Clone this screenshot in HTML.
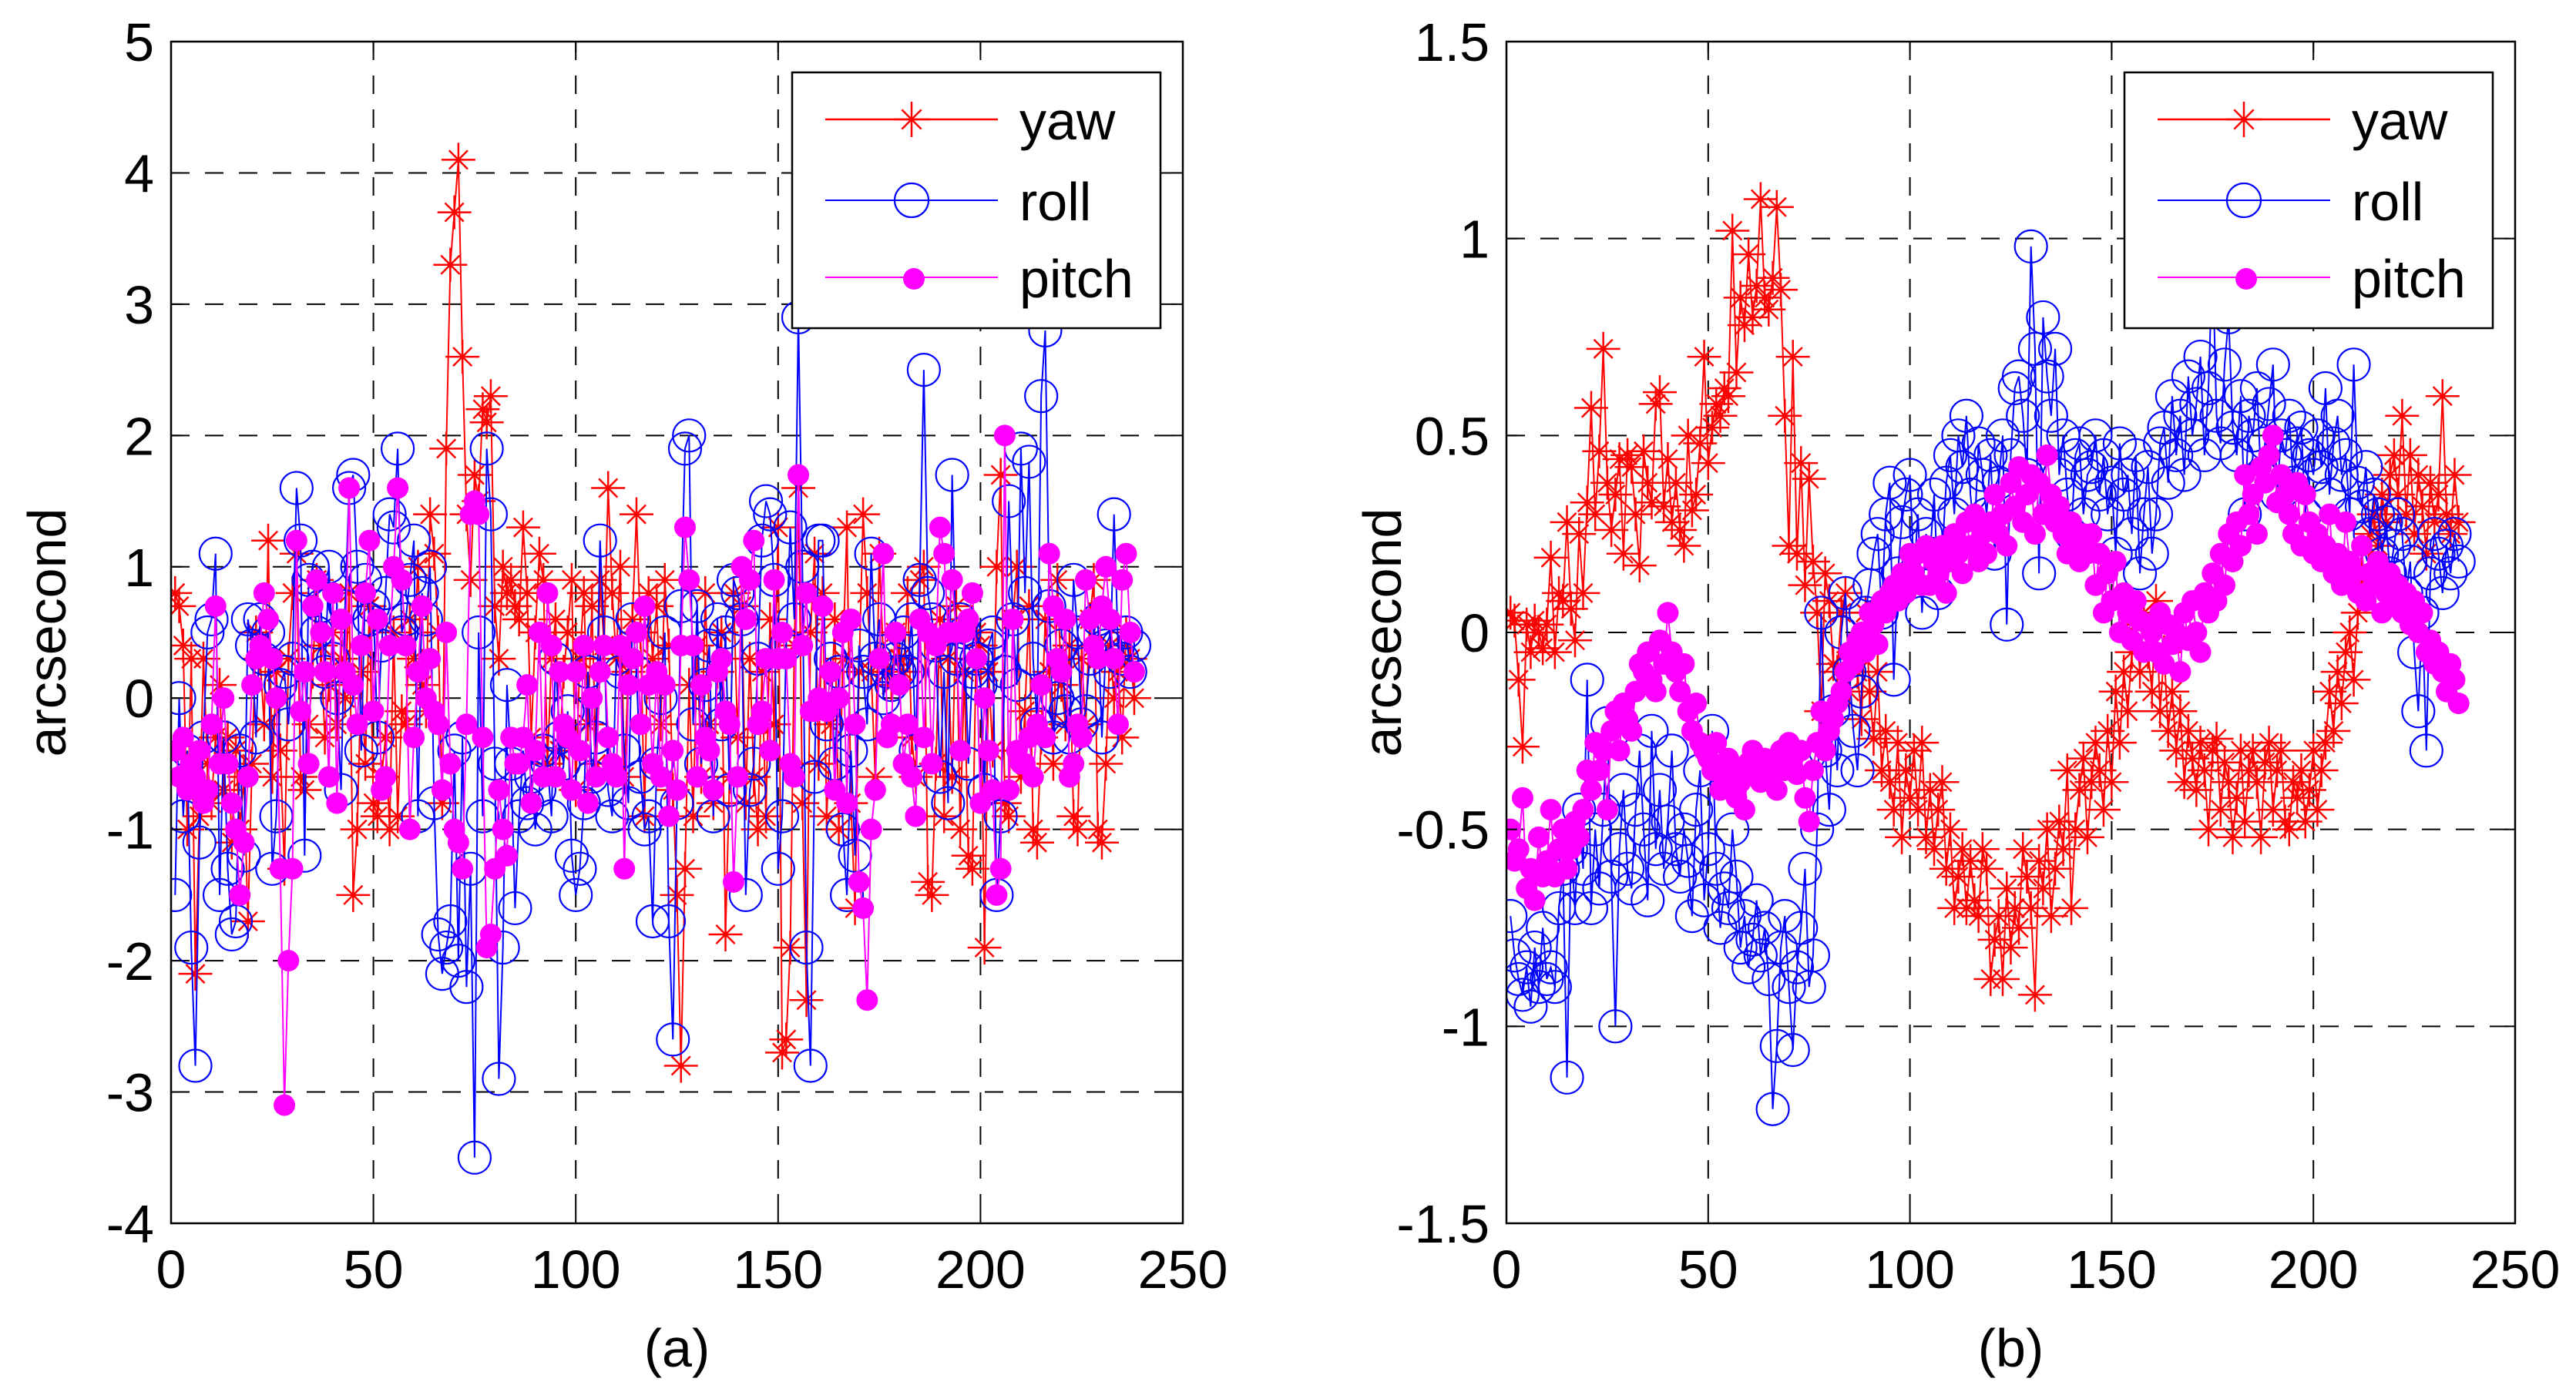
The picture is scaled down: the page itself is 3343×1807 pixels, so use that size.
<!DOCTYPE html>
<html><head><meta charset="utf-8"><style>
html,body{margin:0;padding:0;background:#fff}
svg{display:block}
text{font-family:"Liberation Sans",Arial,sans-serif;fill:#000}
</style></head><body>
<svg id="fig" width="3343" height="1807" viewBox="0 0 3343 1807" xmlns="http://www.w3.org/2000/svg">
<rect width="3343" height="1807" fill="#fff"/>
</svg>
<script>
// ---- Panel (a) data ----
const aXTicks=[0,50,100,150,200,250];
const aYTicks=[-4,-3,-2,-1,0,1,2,3,4,5];
const aYaw=[0.8,0.7,0.4,-1.0,0.3,-2.1,-0.9,0.3,-0.5,-0.8,-0.3,0.1,-0.7,-0.3,-1.1,-0.4,-1.0,-0.6,-1.7,-0.5,
0.5,0.3,-0.2,1.2,-0.6,0.2,-0.4,-1.3,0.3,0.8,1.1,-0.6,-0.7,-0.2,0.2,0.9,0.4,-0.3,0.1,0.5,
-0.2,0.3,0.0,0.8,-1.5,-1.0,0.2,-0.5,0.7,-0.8,-0.9,-0.6,-0.3,-1.0,0.5,-0.9,-0.1,-0.2,0.6,0.3,
1.0,0.1,-0.1,1.4,1.1,0.5,-0.8,1.9,3.3,3.7,4.1,2.6,1.4,0.9,1.7,1.5,2.2,2.1,2.3,0.7,
0.3,1.0,0.8,0.9,0.7,0.6,1.3,0.8,-0.3,0.5,1.1,0.9,-0.5,0.3,0.6,-0.4,0.2,0.5,0.9,-0.7,
0.3,0.8,-0.2,0.7,-0.5,0.9,0.4,1.6,0.8,0.3,1.0,-0.6,0.2,0.6,1.4,0.5,-0.9,0.8,0.3,0.7,
-0.2,0.9,0.4,-0.7,-1.5,-2.8,-1.3,0.1,-0.9,0.4,-0.6,0.8,-0.2,-0.8,0.2,0.5,-1.8,-0.6,0.8,-0.3,
0.7,-0.8,0.3,-0.6,-1.0,0.2,-0.9,0.6,-0.2,1.3,-2.7,-2.6,-1.9,0.4,1.6,-0.8,-2.3,0.5,1.1,-0.5,
0.8,-0.9,-0.2,0.6,-1.0,0.3,1.3,-0.8,-1.6,0.2,1.4,0.8,0.2,-0.6,1.1,0.3,0.2,0.1,0.5,0.3,
0.2,0.8,-0.3,-0.6,0.9,1.0,-1.4,-1.5,-0.5,0.6,-0.9,0.3,-0.6,0.7,-1.0,0.2,-1.2,-1.3,0.5,0.4,
-1.9,0.2,-0.4,1.0,1.7,-0.8,-0.9,0.6,1.0,-0.6,-0.1,0.7,-1.0,-1.1,-0.3,0.6,0.2,-0.5,0.9,0.1,
-0.2,0.4,-0.9,-1.0,0.3,-0.2,0.6,0.9,-1.0,-1.1,-0.5,0.4,0.0,0.2,-0.3,0.5,0.3,0.0];
const aRoll=[-1.5,0.0,-0.9,-0.4,-1.9,-2.8,-1.1,-0.3,0.5,0.6,1.1,-1.5,-0.3,-1.3,-1.8,-1.7,-0.4,-1.2,0.6,0.4,
-0.3,0.6,0.3,0.5,-1.3,-0.9,0.1,0.2,-0.2,0.3,1.6,1.2,-1.2,0.9,1.0,0.5,0.7,0.2,1.0,0.3,
0.0,-0.7,0.7,1.6,1.7,1.0,-0.4,0.9,0.6,0.7,-0.3,0.4,0.8,1.4,1.3,1.9,0.5,0.6,0.9,1.2,
-0.9,0.8,0.6,1.0,-0.8,-1.8,-2.1,-1.9,-1.7,-0.4,-2.0,-0.3,-2.2,-1.3,-3.5,0.5,-0.9,1.9,1.4,-0.5,
-2.9,-1.9,0.1,-0.5,-1.6,-0.9,-0.4,-0.8,-0.6,-1.0,-0.7,-0.4,-0.5,-0.9,0.3,-0.3,-0.5,-0.1,-1.2,-1.5,
-1.3,-0.8,0.2,-0.6,-0.3,1.2,0.5,-0.7,-0.9,0.3,0.2,-0.4,-0.8,0.6,0.2,-0.6,-1.0,-0.9,-1.7,-0.5,
0.0,0.5,-1.7,-2.6,-0.8,0.7,1.9,2.0,-0.2,0.7,-0.5,0.1,0.4,-0.9,0.6,-0.2,0.5,-0.7,0.9,0.8,
0.6,-1.5,-0.7,-0.5,0.3,1.2,1.5,1.4,0.9,-1.3,-0.9,0.4,1.3,0.6,2.9,1.0,-1.9,-2.8,-0.6,1.2,
1.2,-0.2,0.3,-0.5,0.2,-1.0,-1.5,-0.4,-1.2,0.4,0.2,-0.2,1.1,0.3,0.6,0.0,0.2,0.1,0.3,0.2,
0.5,0.2,0.6,-0.4,0.9,2.5,0.8,0.6,0.4,-0.6,0.2,-0.8,1.7,0.3,0.6,0.5,-0.5,0.2,0.3,0.1,
-0.7,0.4,0.5,-1.5,-0.9,0.2,1.5,0.6,0.1,1.9,0.8,1.8,0.3,-0.2,2.3,2.8,0.7,-0.3,0.0,0.4,
-0.1,-0.3,0.9,0.5,-0.2,-0.1,0.3,0.5,0.6,-0.3,0.4,0.2,1.4,0.4,0.3,0.5,0.2,0.4];
const aPitch=[-0.4,-0.6,-0.3,-0.7,-0.5,-0.6,-0.4,-0.8,-0.7,-0.2,0.7,-0.5,0.0,-0.5,-0.8,-1.0,-1.5,-1.1,-0.6,0.1,
0.3,0.4,0.8,0.6,0.3,0.0,-1.3,-3.1,-2.0,-1.3,1.2,-0.1,0.2,-0.5,0.7,0.9,0.5,0.2,-0.6,0.8,
-0.8,0.6,0.2,1.6,0.1,-0.2,0.4,0.8,1.2,-0.1,0.6,-0.7,-0.6,0.4,1.0,1.6,0.9,0.4,-1.0,-0.3,
0.2,0.7,0.0,0.3,-0.1,-0.2,-0.7,0.5,-0.5,-1.0,-1.1,-1.3,-0.2,1.4,1.5,1.4,-0.3,-1.9,-1.8,-1.3,
-0.7,-1.0,-1.2,-0.3,-0.5,-0.5,-0.3,0.1,-0.8,-0.4,0.5,-0.6,0.8,0.4,-0.6,0.2,-0.2,-0.3,-0.7,0.2,
-0.4,0.4,-0.8,0.0,-0.6,0.2,0.4,-0.3,-0.5,-0.6,0.4,-1.3,0.1,0.3,0.5,-0.2,0.7,0.1,-0.5,0.2,
-0.6,0.1,-0.9,-0.4,-0.7,0.4,1.3,0.9,0.4,-0.6,0.1,-0.3,-0.4,-0.7,0.2,0.3,-0.1,-0.2,-1.4,-0.6,
1.0,0.6,0.9,1.2,-0.2,-0.1,0.3,-0.4,0.9,0.3,0.5,0.3,-0.5,-0.6,1.7,0.4,0.8,-0.1,-0.1,0.0,
0.7,-0.1,0.2,-0.7,0.0,0.5,-0.8,0.6,-0.2,-1.4,-1.6,-2.3,-1.0,-0.7,0.3,1.1,-0.3,-0.2,0.5,0.1,
-0.5,-0.2,-0.6,-0.9,0.6,-0.3,0.5,-0.5,0.4,1.3,1.1,0.5,0.9,0.5,-0.4,0.5,0.6,0.8,0.3,-0.8,
0.0,-0.4,-0.7,-1.5,-1.3,2.0,-0.7,0.6,-0.4,-0.5,-0.5,-0.3,-0.6,-0.2,0.1,-0.3,1.1,0.7,0.3,0.2,
0.6,-0.6,-0.5,-0.2,-0.3,0.9,0.6,0.4,0.3,0.7,1.0,0.6,0.3,-0.2,0.9,1.1,0.5,0.2];
// ---- Panel (b) data ----
const bXTicks=[0,50,100,150,200,250];
const bYTicks=[-1.5,-1,-0.5,0,0.5,1,1.5];
const bYaw=[0.05,0.03,-0.12,-0.29,0.02,-0.05,0.03,0.00,-0.04,0.02,0.19,-0.05,0.10,0.08,0.28,0.06,-0.02,0.25,0.10,0.33,
0.57,0.30,0.46,0.72,0.38,0.26,0.35,0.44,0.20,0.45,0.42,0.30,0.17,0.46,0.38,0.33,0.58,0.61,0.32,0.44,
0.28,0.38,0.26,0.22,0.50,0.31,0.35,0.48,0.70,0.43,0.52,0.58,0.55,0.62,0.60,1.02,0.66,0.85,0.78,0.96,
0.80,0.88,1.10,0.85,0.82,0.90,1.08,0.87,0.55,0.22,0.70,0.20,0.43,0.12,0.39,0.18,0.05,-0.20,0.15,0.08,
-0.08,-0.10,0.05,0.10,-0.15,-0.05,-0.10,-0.22,0.05,-0.15,-0.27,-0.10,-0.35,-0.25,-0.38,-0.45,-0.28,-0.52,-0.35,-0.42,
-0.30,-0.45,-0.28,-0.52,-0.40,-0.55,-0.45,-0.38,-0.60,-0.50,-0.70,-0.62,-0.55,-0.70,-0.58,-0.68,-0.72,-0.55,-0.60,-0.88,
-0.78,-0.72,-0.88,-0.65,-0.80,-0.70,-0.75,-0.55,-0.62,-0.70,-0.92,-0.58,-0.65,-0.50,-0.72,-0.60,-0.48,-0.55,-0.35,-0.70,
-0.50,-0.40,-0.32,-0.52,-0.38,-0.28,-0.35,-0.45,-0.25,-0.38,-0.15,-0.28,-0.10,-0.20,-0.05,0.02,-0.10,0.05,-0.05,-0.15,
0.08,-0.20,-0.05,-0.25,-0.15,-0.30,-0.20,-0.38,-0.25,-0.32,-0.40,-0.28,-0.35,-0.50,-0.30,-0.27,-0.45,-0.33,-0.38,-0.52,
-0.42,-0.30,-0.48,-0.35,-0.30,-0.38,-0.52,-0.33,-0.28,-0.45,-0.35,-0.30,-0.48,-0.50,-0.38,-0.42,-0.35,-0.48,-0.40,-0.30,
-0.45,-0.35,-0.28,-0.15,-0.25,-0.10,-0.18,-0.05,0.00,-0.12,0.05,0.15,0.10,0.25,0.30,0.22,0.35,0.28,0.40,0.45,
0.35,0.55,0.30,0.45,0.25,0.40,0.32,0.20,0.38,0.28,0.35,0.60,0.30,0.25,0.40,0.28];
const bRoll=[-0.72,-0.82,-0.88,-0.92,-0.85,-0.95,-0.80,-0.90,-0.75,-0.88,-0.85,-0.90,-0.70,-0.60,-1.13,-0.55,-0.70,-0.45,-0.60,-0.12,
-0.70,-0.50,-0.65,-0.45,-0.23,-0.62,-1.00,-0.55,-0.40,-0.60,-0.65,-0.45,-0.30,-0.50,-0.68,-0.25,-0.55,-0.40,-0.60,-0.48,
-0.30,-0.55,-0.62,-0.50,-0.58,-0.72,-0.45,-0.35,-0.68,-0.55,-0.25,-0.60,-0.75,-0.65,-0.70,-0.50,-0.62,-0.80,-0.72,-0.85,
-0.78,-0.68,-0.82,-0.75,-0.88,-1.21,-1.05,-0.80,-0.72,-0.90,-1.06,-0.85,-0.75,-0.60,-0.90,-0.82,-0.50,0.05,-0.30,-0.45,
-0.20,-0.35,0.00,0.10,-0.10,-0.25,-0.35,-0.15,0.05,0.12,0.20,0.25,0.05,0.30,0.38,-0.12,0.15,0.28,0.35,0.40,
0.15,0.30,0.05,0.25,0.20,0.35,
0.10,0.20,0.38,0.45,0.30,0.50,0.42,0.55,0.35,0.25,0.48,0.40,0.30,0.45,0.20,0.38,0.50,0.02,0.45,0.62,
0.65,0.55,0.40,0.98,0.72,0.15,0.80,0.65,0.55,0.72,0.40,0.50,0.35,0.25,0.45,0.48,0.30,0.40,0.42,0.50,
0.35,0.45,0.30,0.38,0.20,0.48,0.35,0.40,0.25,0.45,0.15,0.30,0.42,0.20,
0.30,0.48,0.52,0.38,0.60,0.45,0.55,0.40,0.65,0.50,0.58,0.70,0.45,0.62,0.95,0.55,0.48,0.68,0.80,0.52,
0.45,0.60,0.30,0.55,0.50,0.62,0.40,0.48,0.58,0.68,0.35,0.50,0.45,0.55,0.38,0.48,0.52,0.30,0.45,0.40,
0.50,0.42,0.62,0.35,0.48,0.55,0.40,0.45,0.30,0.68,0.38,0.32,0.42,0.25,0.35,0.30,0.20,0.28,0.15,0.22,
0.30,0.25,0.10,0.18,-0.05,-0.20,0.05,-0.30,0.15,0.25,0.20,0.10,0.22,0.15,0.25,0.18];
const bPitch=[-0.50,-0.58,-0.55,-0.42,-0.65,-0.60,-0.68,-0.52,-0.62,-0.58,-0.45,-0.62,-0.55,-0.50,-0.60,-0.55,-0.48,-0.52,-0.45,-0.35,
-0.40,-0.28,-0.35,-0.30,-0.45,-0.25,-0.20,-0.30,-0.18,-0.22,-0.25,-0.15,-0.08,-0.10,-0.05,-0.12,-0.15,-0.02,-0.08,0.05,
-0.05,-0.10,-0.15,-0.08,-0.20,-0.25,-0.18,-0.28,-0.30,-0.32,-0.35,-0.28,-0.40,-0.38,-0.32,-0.35,-0.42,-0.38,-0.45,-0.33,
-0.30,-0.35,-0.38,-0.32,-0.36,-0.34,-0.40,-0.30,-0.35,-0.28,-0.32,-0.36,-0.30,-0.42,-0.48,-0.35,-0.28,-0.20,-0.30,-0.25,
-0.22,-0.18,-0.15,-0.10,-0.05,-0.08,-0.02,0.00,-0.05,0.05,0.02,-0.03,0.08,0.05,0.10,0.12,0.08,0.15,0.10,0.20,
0.15,0.20,0.12,0.22,
0.12,0.18,0.15,0.22,0.10,0.18,0.25,0.20,0.15,0.28,0.22,0.30,0.18,0.25,0.20,0.28,0.35,0.25,0.30,0.22,
0.38,0.32,0.42,0.28,0.35,0.40,0.25,0.38,0.30,0.45,0.35,0.28,0.32,0.25,0.20,0.28,0.22,0.18,0.25,0.20,
0.25,0.12,0.20,0.05,0.15,0.08,0.18,0.00,0.10,0.05,-0.02,0.08,0.03,-0.05,0.02,0.00,
-0.05,0.05,-0.08,0.02,-0.03,0.00,-0.10,0.05,-0.02,0.08,0.00,-0.05,0.10,0.05,0.15,0.08,0.20,0.12,0.25,0.18,
0.28,0.22,0.40,0.30,0.35,0.25,0.42,0.38,0.45,0.50,0.33,0.40,0.35,0.30,0.25,0.38,0.22,0.35,0.28,0.20,
0.25,0.18,0.22,0.30,0.15,0.20,0.12,0.28,0.18,0.15,0.10,0.22,0.08,0.15,0.12,0.18,0.05,0.10,0.15,0.08,
0.12,0.05,0.10,0.02,0.08,0.00,0.05,-0.05,-0.02,-0.08,-0.05,-0.10,-0.15,-0.08,-0.12,-0.18];
const seriesNames=["yaw","roll","pitch"];

const NS="http://www.w3.org/2000/svg";
const svg=document.getElementById("fig");
function mk(tag,attrs,parent){const e=document.createElementNS(NS,tag);for(const k in attrs)e.setAttribute(k,attrs[k]);(parent||svg).appendChild(e);return e;}

function star(g,x,y,s){
  mk("path",{d:`M${x-s} ${y}H${x+s}M${x} ${y-s}V${y+s}M${x-s*0.55} ${y-s*0.55}L${x+s*0.55} ${y+s*0.55}M${x-s*0.55} ${y+s*0.55}L${x+s*0.55} ${y-s*0.55}`,stroke:"#ff0000","stroke-width":2.5,fill:"none"},g);
}

function panel(id,L,R,T,B,xmin,xmax,ymin,ymax,xt,yt,yFmt,yaw,roll,pitch,label){
  const sx=v=>L+(v-xmin)/(xmax-xmin)*(R-L);
  const sy=v=>B-(v-ymin)/(ymax-ymin)*(B-T);
  const g=mk("g",{});
  
  
  const cp=mk("clipPath",{id:id+"-clip"},g);
  mk("rect",{x:L,y:T,width:R-L,height:B-T},cp);
  const grid=mk("g",{stroke:"#000","stroke-width":2,"stroke-dasharray":"24 20"},g);
  
  
  xt.forEach(v=>{if(v>xmin&&v<xmax)mk("line",{x1:sx(v),x2:sx(v),y1:T,y2:B},grid);});
  yt.forEach(v=>{if(v>ymin&&v<ymax)mk("line",{x1:L,x2:R,y1:sy(v),y2:sy(v)},grid);});
  const data=mk("g",{"clip-path":`url(#${id}-clip)`},g);
  const gy=mk("g",{},data);
  
  
  mk("polyline",{points:yaw.map((v,i)=>sx(i+1)+","+sy(v)).join(" "),stroke:"#ff0000","stroke-width":2,fill:"none"},gy);
  yaw.forEach((v,i)=>star(gy,sx(i+1),sy(v),22));
  const gr=mk("g",{},data);
  
  
  mk("polyline",{points:roll.map((v,i)=>sx(i+1)+","+sy(v)).join(" "),stroke:"#0000ff","stroke-width":2,fill:"none"},gr);
  roll.forEach((v,i)=>mk("circle",{cx:sx(i+1),cy:sy(v),r:21,stroke:"#0000ff","stroke-width":2.2,fill:"none"},gr));
  const gp=mk("g",{},data);
  
  
  mk("polyline",{points:pitch.map((v,i)=>sx(i+1)+","+sy(v)).join(" "),stroke:"#ff00ff","stroke-width":2,fill:"none"},gp);
  pitch.forEach((v,i)=>mk("circle",{cx:sx(i+1),cy:sy(v),r:14,fill:"#ff00ff"},gp));
  const box=mk("rect",{x:L,y:T,width:R-L,height:B-T,fill:"none",stroke:"#000","stroke-width":2.5},g);
  
  
  const tk=mk("g",{stroke:"#000","stroke-width":2},g);
  xt.forEach(v=>{mk("line",{x1:sx(v),x2:sx(v),y1:B,y2:B-14},tk);mk("line",{x1:sx(v),x2:sx(v),y1:T,y2:T+14},tk);});
  yt.forEach(v=>{mk("line",{x1:L,x2:L+14,y1:sy(v),y2:sy(v)},tk);mk("line",{x1:R,x2:R-14,y1:sy(v),y2:sy(v)},tk);});
  xt.forEach(v=>{const t=mk("text",{x:sx(v),y:B+84,"text-anchor":"middle","font-size":70},g);t.textContent=v;
    
    });
  yt.forEach(v=>{const t=mk("text",{x:L-22,y:sy(v)+25,"text-anchor":"end","font-size":70},g);t.textContent=yFmt(v);
    
    });
  const yl=mk("text",{x:0,y:0,"text-anchor":"middle","font-size":70,transform:`translate(${L-137},${(T+B)/2}) rotate(-90)`},g);
  yl.textContent="arcsecond";
  
  
  const xl=mk("text",{x:(L+R)/2,y:1774,"text-anchor":"middle","font-size":70},g);
  xl.textContent=label;
  
  
  const lx=R-507, ly=T+40;
  const lg=mk("g",{},g);
  
  
  mk("rect",{x:lx,y:ly,width:478,height:332,fill:"#fff",stroke:"#000","stroke-width":2.5},lg);
  const rows=[ly+61,ly+166,ly+266];
  const cols=["#ff0000","#0000ff","#ff00ff"];
  seriesNames.forEach((n,k)=>{
    const e=mk("g",{},lg);
    
    
    mk("line",{x1:lx+43,x2:lx+267,y1:rows[k],y2:rows[k],stroke:cols[k],"stroke-width":k==0?2.5:2},e);
    const mx=lx+155;
    if(k==0)star(e,mx,rows[k],23);
    else if(k==1)mk("circle",{cx:mx,cy:rows[k],r:22,stroke:"#0000ff","stroke-width":2.2,fill:"none"},e);
    else mk("circle",{cx:mx+3,cy:rows[k]+2,r:14,fill:"#ff00ff"},e);
    const t=mk("text",{x:lx+295,y:rows[k]+26,"font-size":70},e);t.textContent=n;
  });
}
const fmtA=v=>String(v);
const fmtB=v=>String(v);
panel("panel-a",222,1535,54,1588,0,250,-4,5,aXTicks,aYTicks,fmtA,aYaw,aRoll,aPitch,"(a)");
panel("panel-b",1955,3264,54,1588,0,250,-1.5,1.5,bXTicks,bYTicks,fmtB,bYaw,bRoll,bPitch,"(b)");
</script>
</body></html>
